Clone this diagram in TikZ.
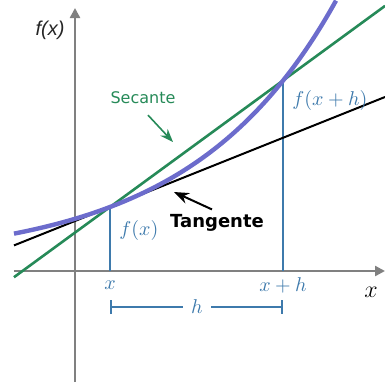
\documentclass[tikz,border=0pt]{standalone}
\usepackage{fontspec}
\usepackage{tikz}
\usetikzlibrary{arrows.meta,calc}
\newfontfamily\labfont{DejaVu Sans}
\newfontfamily\axfont{Liberation Sans}
\definecolor{curveblue}{RGB}{108,108,204}
\definecolor{secgreen}{RGB}{38,138,88}
\definecolor{lineblue}{RGB}{62,122,172}
\definecolor{axgray}{RGB}{128,128,128}

\begin{document}
\begin{tikzpicture}[x=0.5pt,y=0.5pt,>={Stealth[]},
  axis/.style={draw=axgray,line width=1.2pt,-{Triangle[length=5pt,width=5pt]}},
  guide/.style={draw=lineblue,line width=0.6pt},
  lbl/.style={text=lineblue,inner sep=1pt}]
\useasboundingbox (-75,-111) rectangle (310,271);
% axes
\coordinate (O1) at (0,-111);
\coordinate (O2) at (0,263);
\coordinate (X1) at (-61,0);
\coordinate (X2) at (310,0);
\draw[axis] (O1) -- (O2);
\draw[axis] (X1) -- (X2);
\node[font=\axfont\itshape,text=black!85] (fy) at (-25,241) {f(x)};
\node[font=\large] (xlab) at (296,-21) {$x$};
% points on the curve
\coordinate (P) at (35,64);
\coordinate (Q) at (208,190.5);
\coordinate (Px) at (35,0);
\coordinate (Qx) at (208,0);
\draw[guide] (Px) -- (P);
\draw[guide] (Qx) -- (Q);
% tangent and secant
\coordinate (T1) at (-61,25.6);
\coordinate (T2) at (310,174);
\draw[black,line width=1pt] (T1) -- (T2);
\draw[secgreen,line width=1.3pt] ($(P)!-0.555!(Q)$) -- ($(P)!1.59!(Q)$);
\draw[curveblue,line width=2.2pt] plot[domain=-61:261,samples=80,smooth] (\x,{9+55*exp(0.0069*(\x-35))});
% labels
\node[lbl,anchor=west] (fxl) at (42,41) {$f(x)$};
\node[lbl,anchor=west] (fxhl) at (215,171) {$f(x+h)$};
\node[lbl] (xl) at (35,-14) {$x$};
\node[lbl] (xhl) at (208,-14) {$x+h$};
\node[font=\labfont\footnotesize,text=secgreen] (sec) at (68,173) {Secante};
\node[font=\labfont\small\bfseries] (tan) at (142,48) {Tangente};
\coordinate (sectip) at (98,129);
\coordinate (tantip) at (99,79);
\draw[->,secgreen,line width=0.8pt] ($(sec.south)+(5,-4)$) -- (sectip);
\draw[->,black,line width=1pt] ($(tan.north)+(-5,-2)$) -- (tantip);
% h interval
\node[lbl,inner sep=4pt] (hl) at (122,-36) {$h$};
\coordinate (ha) at (35,-36);
\coordinate (hb) at (208,-36);
\draw[guide,line width=0.8pt,{Bar[width=7pt]}-] (ha) -- (hl);
\draw[guide,line width=0.8pt,-{Bar[width=7pt]}] (hl) -- (hb);
\end{tikzpicture}
\end{document}
